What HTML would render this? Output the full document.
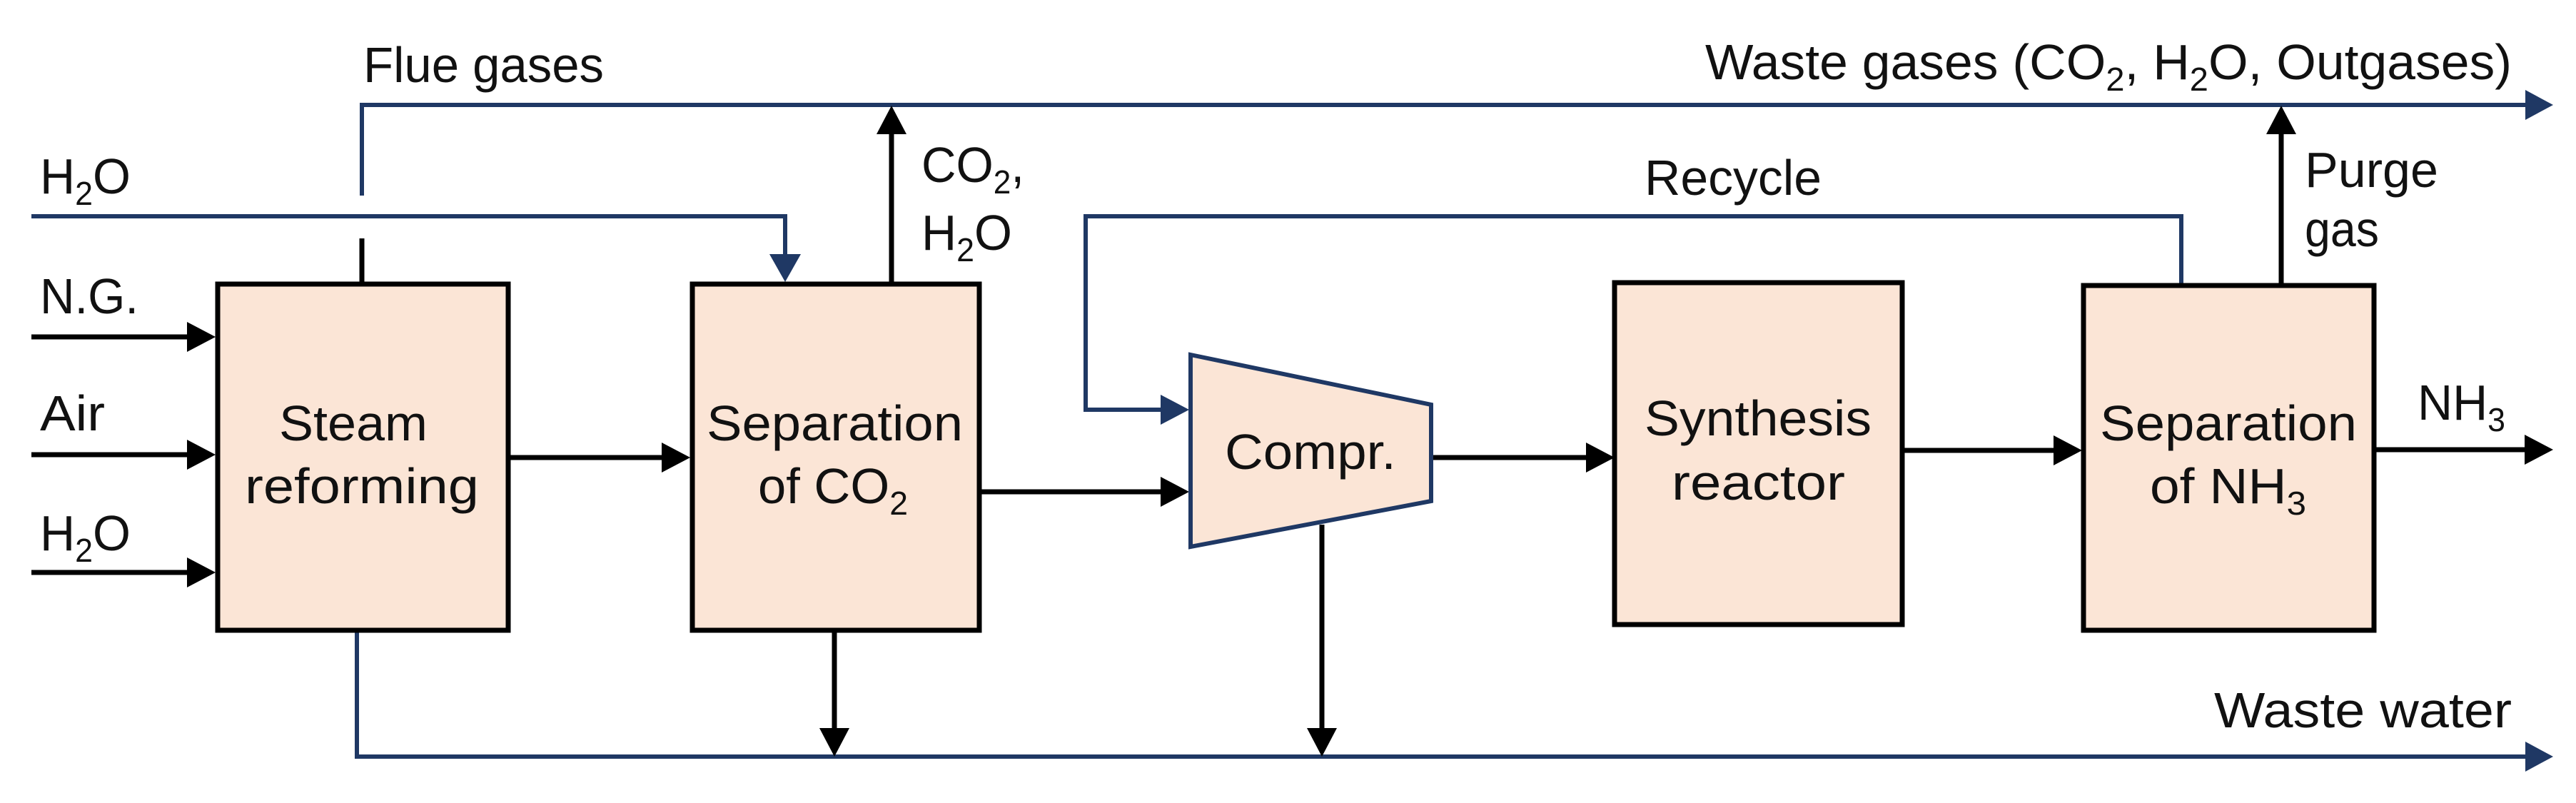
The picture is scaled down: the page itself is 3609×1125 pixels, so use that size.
<!DOCTYPE html>
<html><head><meta charset="utf-8"><style>
html,body{margin:0;padding:0;background:#fff;}
svg{display:block;}
text{font-family:"Liberation Sans",sans-serif;font-size:70px;fill:#111;}
</style></head><body>
<svg width="3609" height="1125" viewBox="0 0 3609 1125" xmlns="http://www.w3.org/2000/svg">
<g fill="none" stroke="#1f3864" stroke-width="6">
<polyline points="507,274 507,147 3540,147"/>
<polyline points="44,303 1100,303 1100,365"/>
<polyline points="3056,398 3056,303 1521,303 1521,574 1630,574"/>
<polyline points="500,883 500,1060 3540,1060"/>
</g>
<g fill="#1f3864">
<polygon points="3577,147 3538,126 3538,168"/>
<polygon points="3577,1060 3538,1039 3538,1081"/>
<polygon points="1100,395 1078,356 1122,356"/>
<polygon points="1666,574 1626,553 1626,595"/>
</g>
<g fill="none" stroke="#000" stroke-width="7">
<line x1="507" y1="334" x2="507" y2="398"/>
<line x1="44" y1="472" x2="265" y2="472"/>
<line x1="44" y1="637" x2="265" y2="637"/>
<line x1="44" y1="802" x2="265" y2="802"/>
<line x1="712" y1="641" x2="930" y2="641"/>
<line x1="1249" y1="398" x2="1249" y2="185"/>
<line x1="1372" y1="689" x2="1630" y2="689"/>
<line x1="1169" y1="883" x2="1169" y2="1022"/>
<line x1="1852" y1="735" x2="1852" y2="1022"/>
<line x1="2005" y1="641" x2="2225" y2="641"/>
<line x1="2665" y1="631" x2="2882" y2="631"/>
<line x1="3196" y1="398" x2="3196" y2="185"/>
<line x1="3326" y1="630" x2="3540" y2="630"/>
</g>
<g fill="#000">
<polygon points="302,472 262,451 262,493"/>
<polygon points="302,637 262,616 262,658"/>
<polygon points="302,802 262,781 262,823"/>
<polygon points="967,641 927,620 927,662"/>
<polygon points="1249,148 1228,188 1270,188"/>
<polygon points="1666,689 1626,668 1626,710"/>
<polygon points="1169,1060 1148,1020 1190,1020"/>
<polygon points="1852,1060 1831,1020 1873,1020"/>
<polygon points="2262,641 2222,620 2222,662"/>
<polygon points="2917,631 2877,610 2877,652"/>
<polygon points="3196,148 3175,188 3217,188"/>
<polygon points="3577,630 3537,609 3537,651"/>
</g>
<g fill="#fbe5d6" stroke="#000" stroke-width="7">
<rect x="305" y="398" width="407" height="485"/>
<rect x="970" y="398" width="402" height="485"/>
<rect x="2262" y="396" width="403" height="479"/>
<rect x="2919" y="400" width="407" height="483"/>
</g>
<polygon points="1668,497 2005,567 2005,702 1668,766" fill="#fbe5d6" stroke="#1f3864" stroke-width="6"/>

<text x="509" y="115" textLength="337" lengthAdjust="spacingAndGlyphs">Flue gases</text>
<text x="56" y="271" textLength="127" lengthAdjust="spacingAndGlyphs">H<tspan font-size="46" dy="16">2</tspan><tspan dy="-16">O</tspan></text>
<text x="56" y="439" textLength="138" lengthAdjust="spacingAndGlyphs">N.G.</text>
<text x="56" y="603" textLength="91" lengthAdjust="spacingAndGlyphs">Air</text>
<text x="56" y="771" textLength="127" lengthAdjust="spacingAndGlyphs">H<tspan font-size="46" dy="16">2</tspan><tspan dy="-16">O</tspan></text>
<text x="391" y="617" textLength="208" lengthAdjust="spacingAndGlyphs">Steam</text>
<text x="343" y="705" textLength="328" lengthAdjust="spacingAndGlyphs">reforming</text>
<text x="990" y="617" textLength="359" lengthAdjust="spacingAndGlyphs">Separation</text>
<text x="1062" y="705" textLength="210" lengthAdjust="spacingAndGlyphs">of CO<tspan font-size="46" dy="16">2</tspan></text>
<text x="1291" y="255" textLength="144" lengthAdjust="spacingAndGlyphs">CO<tspan font-size="46" dy="16">2</tspan><tspan dy="-16">,</tspan></text>
<text x="1291" y="350" textLength="127" lengthAdjust="spacingAndGlyphs">H<tspan font-size="46" dy="16">2</tspan><tspan dy="-16">O</tspan></text>
<text x="1716" y="657" textLength="240" lengthAdjust="spacingAndGlyphs">Compr.</text>
<text x="2304" y="273" textLength="248" lengthAdjust="spacingAndGlyphs">Recycle</text>
<text x="2304" y="610" textLength="318" lengthAdjust="spacingAndGlyphs">Synthesis</text>
<text x="2342" y="700" textLength="243" lengthAdjust="spacingAndGlyphs">reactor</text>
<text x="2942" y="617" textLength="360" lengthAdjust="spacingAndGlyphs">Separation</text>
<text x="3012" y="705" textLength="219" lengthAdjust="spacingAndGlyphs">of NH<tspan font-size="46" dy="16">3</tspan></text>
<text x="3387" y="588" textLength="123" lengthAdjust="spacingAndGlyphs">NH<tspan font-size="46" dy="16">3</tspan></text>
<text x="3229" y="262" textLength="187" lengthAdjust="spacingAndGlyphs">Purge</text>
<text x="3229" y="345" textLength="104" lengthAdjust="spacingAndGlyphs">gas</text>
<text x="2389" y="111" textLength="1130" lengthAdjust="spacingAndGlyphs">Waste gases (CO<tspan font-size="46" dy="16">2</tspan><tspan dy="-16">, H</tspan><tspan font-size="46" dy="16">2</tspan><tspan dy="-16">O, Outgases)</tspan></text>
<text x="3102" y="1019" textLength="417" lengthAdjust="spacingAndGlyphs">Waste water</text>
</svg>
</body></html>
